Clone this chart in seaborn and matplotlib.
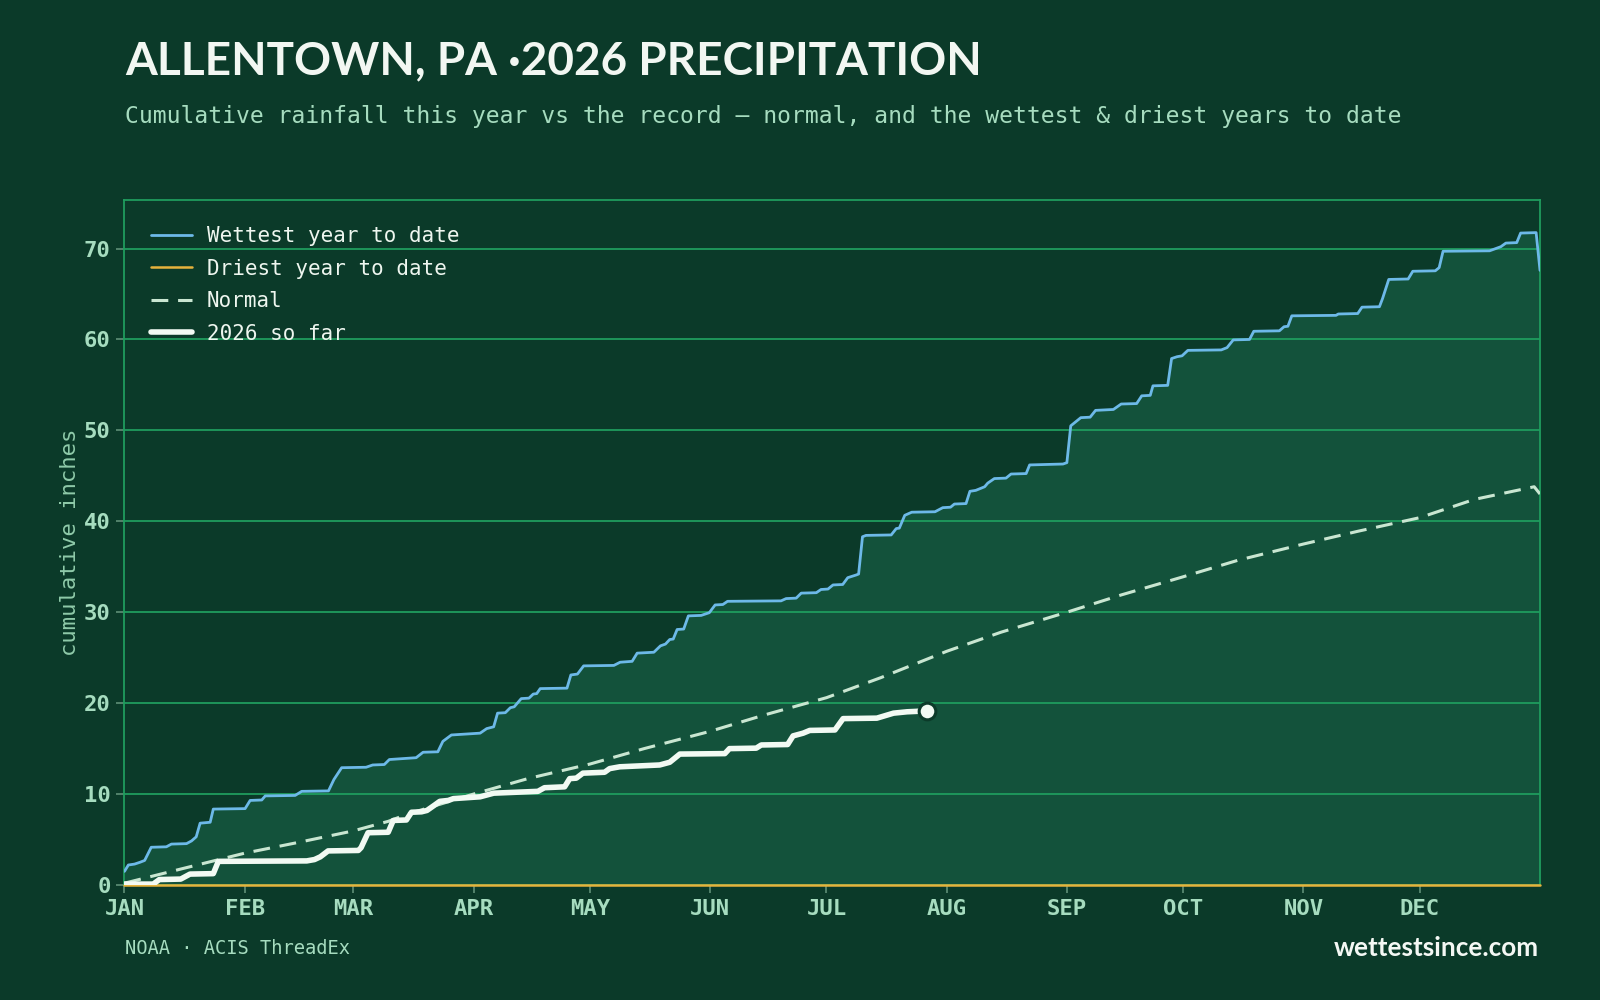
import numpy as np
import pandas as pd
import matplotlib
matplotlib.use("Agg")
import matplotlib.pyplot as plt
import seaborn as sns

# ---- data (day of year, cumulative inches) ----
wet_days = [0, 1, 2.6, 4, 5.2, 6.9, 10.8, 12.1, 16, 17.3, 18.5, 19.5, 22.1, 22.9, 31.1, 32.4,
            35.4, 36.3, 44, 45.7, 52.6, 54, 56, 62.3, 64, 67, 68.3, 75.2, 77, 80.8, 82.1, 84.3,
            91.7, 93.4, 95.2, 96.2, 98.2, 99.5, 100.5, 102.3, 104.3, 105.4, 106.3, 107.2, 114.1,
            115.1, 116.8, 118.4, 126.2, 127.8, 130.9, 132.2, 136.5, 138.2, 139.5, 140.6, 141.5,
            142.5, 144.2, 145.4, 148.7, 150.8, 152.3, 154.3, 155.5, 169.3, 170.6, 173.2, 174.5,
            178.4, 179.6, 181.4, 182.7, 185.2, 186.5, 188.7, 189.3, 190.3, 191.2, 197.7, 199,
            199.8, 201.2, 203, 209, 211, 213, 214, 217, 218, 219.5, 221.8, 222.6, 224.3, 227.3,
            228.6, 232.5, 233.4, 242, 243, 244, 246.6, 249, 250.4, 255, 257, 261, 262.3, 264.5,
            265.2, 269, 270, 271.4, 272.7, 274.2, 282.8, 284.3, 285.9, 290.1, 291.2, 297.8, 299,
            300, 301, 312.4, 313, 318, 319.1, 323.6, 324.4, 326, 331, 332.2, 338, 339, 340, 352,
            353.6, 354.9, 356.2, 359, 360, 364, 365]
wet_vals = [1.5, 2.2, 2.3, 2.5, 2.7, 4.15, 4.2, 4.5, 4.55, 4.85, 5.3, 6.8, 6.9, 8.35, 8.4, 9.3,
            9.35, 9.8, 9.85, 10.3, 10.35, 11.6, 12.9, 12.95, 13.2, 13.25, 13.8, 14.0, 14.6, 14.65,
            15.8, 16.5, 16.7, 17.2, 17.4, 18.9, 18.95, 19.5, 19.6, 20.5, 20.55, 21.0, 21.05, 21.6,
            21.65, 23.1, 23.2, 24.1, 24.15, 24.5, 24.6, 25.5, 25.6, 26.3, 26.5, 27.0, 27.05, 28.1,
            28.15, 29.6, 29.65, 29.95, 30.8, 30.85, 31.2, 31.25, 31.5, 31.55, 32.1, 32.15, 32.5,
            32.55, 33.0, 33.05, 33.8, 34.1, 34.2, 38.3, 38.45, 38.5, 39.2, 39.25, 40.66, 41.0,
            41.05, 41.5, 41.55, 41.9, 41.95, 43.3, 43.4, 43.8, 44.2, 44.7, 44.75, 45.2, 45.25,
            46.2, 46.3, 46.45, 50.5, 51.4, 51.45, 52.2, 52.3, 52.9, 52.95, 53.8, 53.85, 54.9,
            54.95, 57.9, 58.1, 58.2, 58.8, 58.85, 59.1, 59.95, 60.0, 60.9, 60.95, 61.4, 61.45,
            62.6, 62.65, 62.8, 62.85, 63.55, 63.6, 64.5, 66.6, 66.65, 67.5, 67.55, 67.9, 69.7,
            69.75, 70.0, 70.2, 70.6, 70.65, 71.7, 71.75, 67.6]

dry_days = [0, 365]
dry_vals = [0.0, 0.0]

normal_days = [0, 14, 31, 45, 59, 68, 73, 90, 104, 120, 134, 151, 165, 181, 195, 212, 226, 243,
               257, 273, 287, 304, 318, 334, 348, 363.5, 365]
normal_vals = [0.2, 1.7, 3.5, 4.7, 5.95, 7.0, 7.8, 10.0, 11.7, 13.3, 15.0, 16.9, 18.7, 20.6,
               22.8, 25.7, 27.8, 30.0, 31.9, 33.9, 35.7, 37.5, 38.9, 40.4, 42.4, 43.8, 43.0]

cur_days = [0, 7.4, 9, 14.5, 16.9, 22.9, 24.2, 47, 49, 50.5, 52.5, 60.3, 61, 62.8, 68, 69.3,
            72.7, 74, 76.6, 78, 80, 81.3, 83.5, 84.8, 91.7, 95.2, 106.6, 108.3, 113.5, 114.8,
            116.5, 118.2, 123.8, 125.1, 127.7, 138, 140.6, 143.2, 154.8, 156, 162.9, 164.2, 171,
            172.4, 175, 176.7, 183.2, 185.3, 194, 198.3, 201.8, 207]
cur_vals = [0.1, 0.1, 0.6, 0.65, 1.2, 1.25, 2.6, 2.65, 2.8, 3.1, 3.75, 3.8, 4.1, 5.75, 5.8, 7.1,
            7.15, 8.0, 8.05, 8.2, 8.8, 9.2, 9.3, 9.5, 9.7, 10.1, 10.3, 10.7, 10.8, 11.7, 11.75,
            12.3, 12.4, 12.8, 13.0, 13.2, 13.5, 14.4, 14.45, 15.0, 15.05, 15.4, 15.45, 16.4, 16.7,
            17.0, 17.05, 18.3, 18.35, 18.9, 19.05, 19.15]

month_starts = [0, 31, 59, 90, 120, 151, 181, 212, 243, 273, 304, 334]
month_labels = ["JAN", "FEB", "MAR", "APR", "MAY", "JUN", "JUL", "AUG", "SEP", "OCT", "NOV", "DEC"]
y_ticks = [0, 10, 20, 30, 40, 50, 60, 70]

# ---- style ----
BG = "#0b3a29"
FILL = "#13523b"
GRID = "#1f9c5e"
TICK = "#a6dcbf"
MONO = "DejaVu Sans Mono"

sns.set_style("dark")
plt.rcParams["font.family"] = ["DejaVu Sans"]

fig = plt.figure(figsize=(16, 10), dpi=100, facecolor=BG)
ax = fig.add_axes([0.0778, 0.115, 0.8847, 0.685])
ax.set_facecolor(BG)

wet = pd.DataFrame({"day": wet_days, "inches": wet_vals})
dry = pd.DataFrame({"day": dry_days, "inches": dry_vals})
normal = pd.DataFrame({"day": normal_days, "inches": normal_vals})
cur = pd.DataFrame({"day": cur_days, "inches": cur_vals})

ax.fill_between(wet["day"], min(dry_vals), wet["inches"], color=FILL, lw=0, zorder=1)
for y in y_ticks[1:]:
    ax.axhline(y, color=GRID, lw=1.3, zorder=1.5)

sns.lineplot(data=wet, x="day", y="inches", ax=ax, color="#6db9e8", lw=2.0,
             label="Wettest year to date", zorder=3)
sns.lineplot(data=dry, x="day", y="inches", ax=ax, color="#e6b23c", lw=1.8,
             label="Driest year to date", zorder=3, clip_on=False)
sns.lineplot(data=normal, x="day", y="inches", ax=ax, color="#c9e6d1", lw=2.2,
             label="Normal", zorder=3)
sns.lineplot(data=cur, x="day", y="inches", ax=ax, color="#f2faf3", lw=4.0,
             label="2026 so far", zorder=4, solid_capstyle="round")
ax.lines[-2].set_linestyle((0, (5.5, 3.2)))
ax.plot(cur_days[-1], cur_vals[-1], "o", ms=12, mfc="#f2faf3", mec=BG, mew=2.2, zorder=5)

ax.set_xlim(0, 365)
ax.set_ylim(0, max(wet_vals) * 1.05)
ax.set_xticks(month_starts)
ax.set_xticklabels(month_labels)
ax.set_yticks(y_ticks)
ax.grid(False)
for lab in ax.get_xticklabels() + ax.get_yticklabels():
    lab.set_fontfamily(MONO)
    lab.set_fontweight("bold")
    lab.set_fontsize(16)
    lab.set_color(TICK)
ax.tick_params(axis="both", length=6, width=1.2, color="#5f8f76", pad=4, bottom=True, left=True)
for s in ax.spines.values():
    s.set_color(GRID)
    s.set_linewidth(1.3)
ax.set_xlabel("")
ax.set_ylabel("cumulative inches", family=MONO, fontsize=16, color="#8fcaa9", labelpad=3)

leg = ax.legend(loc="upper left", frameon=False, prop={"family": MONO, "size": 15},
                handlelength=2.0, labelspacing=0.6, borderaxespad=0.85, handletextpad=0.7)
for t in leg.get_texts():
    t.set_color("#eef6ef")

fig.text(0.078, 0.939, "ALLENTOWN, PA \u00b72026 PRECIPITATION", family="Lato", weight="bold",
         fontsize=33, color="#f2f7f2", va="center", ha="left")
fig.text(0.078, 0.884, "Cumulative rainfall this year vs the record \u2014 normal, and the wettest & driest years to date",
         family=MONO, fontsize=16.6, color="#a6dcbf", va="center", ha="left")
fig.text(0.078, 0.052, "NOAA \u00b7 ACIS ThreadEx", family=MONO, fontsize=13.5, color="#a6dcbf",
         va="center", ha="left")
fig.text(0.9615, 0.052, "wettestsince.com", family="Lato", weight="bold", fontsize=18.8,
         color="#f4f8f4", va="center", ha="right")

fig.savefig("out.png", dpi=100, facecolor=BG)
